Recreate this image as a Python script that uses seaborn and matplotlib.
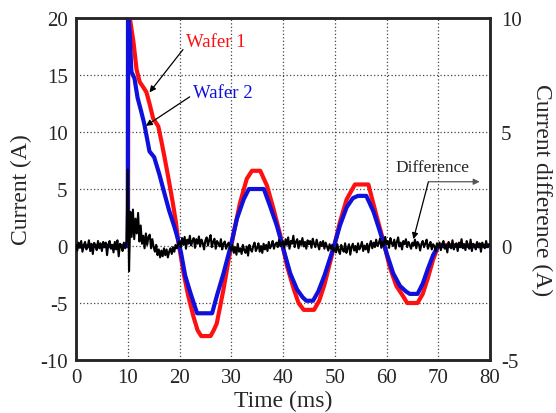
import numpy as np
import pandas as pd
import matplotlib
matplotlib.use("Agg")
import matplotlib.pyplot as plt
import seaborn as sns

# ---- data ----
t_w1 = [0, 9.9, 10.05, 10.1, 10.4, 11.1, 11.7, 12.3, 12.9, 13.6, 14.2, 14.9, 15.9, 16.5, 17.1,
        17.8, 18.7, 19.3, 19.7, 20.8, 21.7, 22.7, 23.5, 24.2, 26.0, 26.6, 27.2, 28.5, 29.5, 30.5,
        31.7, 33.0, 34.0, 35.6, 36.9, 38.2, 39.5, 40.8, 42.1, 43.0, 44.0, 46.0, 47.0, 48.0, 49.0,
        50.0, 51.0, 52.3, 53.9, 56.5, 58.1, 59.3, 60.6, 61.9, 63.2, 64.0, 66.0, 67.0, 68.0, 69.0,
        70.0, 71.0, 80.0]
i_w1 = [0, 0, 0, 20.5, 20.0, 17.9, 15.5, 14.4, 14.0, 13.5, 12.5, 11.2, 10.5, 9.2, 7.8,
        6.1, 3.8, 2.1, 0.6, -2.4, -4.4, -6.2, -7.4, -7.9, -7.9, -7.4, -6.8, -3.8, -1.2, 1.2,
        3.8, 5.9, 6.6, 6.6, 5.3, 3.2, 0.9, -1.8, -3.8, -5.0, -5.6, -5.6, -4.8, -3.4, -1.6,
        0.2, 2.1, 4.1, 5.4, 5.4, 2.6, 0.6, -1.8, -3.5, -4.4, -5.0, -5.0, -4.2, -2.8, -1.2,
        0.0, 0.1, 0.0]

t_w2 = [0, 9.9, 10.0, 10.05, 10.4, 10.7, 11.3, 11.9, 12.6, 13.2, 14.2, 15.1, 16.1, 17.1, 18.0,
        19.0, 19.7, 20.3, 21.1, 22.1, 23.4, 26.3, 27.2, 28.5, 29.9, 31.1, 32.4, 33.4, 36.3, 37.5,
        38.8, 40.1, 41.4, 42.7, 43.8, 44.5, 45.8, 46.8, 48.0, 49.0, 50.0, 51.0, 52.3, 53.5, 54.5,
        56.1, 57.5, 58.5, 60.0, 61.3, 62.6, 63.8, 64.5, 66.0, 67.0, 68.0, 69.0, 70.0, 80.0]
i_w2 = [0, 0, 0, 20.5, 18.5, 15.3, 14.7, 13.0, 11.8, 10.7, 8.3, 7.8, 6.3, 4.6, 3.1,
        1.7, 0.6, -0.6, -2.6, -4.1, -5.9, -5.9, -4.4, -2.4, 0.0, 2.4, 4.1, 5.0, 5.0, 3.5,
        1.8, -0.3, -2.4, -3.8, -4.5, -4.8, -4.8, -4.0, -2.6, -1.2, 0.2, 1.8, 3.4, 4.2, 4.4,
        4.4, 3.0, 1.6, -0.6, -2.4, -3.5, -4.0, -4.2, -4.2, -3.3, -2.0, -0.8, 0.0, 0.0]

diff_vals = [
    0.05, -0.20, 0.15, -0.08, 0.22, -0.25, 0.04, 0.18, -0.15, -0.03, 0.25, -0.22, 0.10, -0.35, 0.14, 0.03, -0.18, 0.22, -0.10, 0.12,
    -0.22, 0.18, -0.05, 0.15, -0.40, 0.08, 0.22, -0.12, 0.04, -0.28, 0.18, -0.15, 0.25, -0.45, 0.10, 0.00, -0.22, 0.15, -0.10, 0.20,
    3.35, -1.10, 1.50, 0.40, 1.60, 0.30, 1.20, 0.55, 1.45, 0.20, 0.90, 0.10, 0.45, -0.10, 0.55, 0.05, 0.40, 0.50, -0.10, 0.30,
    -0.05, -0.25, 0.05, -0.40, -0.15, -0.50, -0.20, -0.45, -0.10, -0.40, -0.15, -0.50, -0.25, -0.10, -0.35, -0.05, -0.25, 0.05, -0.10, 0.10,
    0.20, -0.05, 0.35, 0.05, 0.40, -0.12, 0.28, 0.10, 0.45, 0.02, 0.22, 0.35, -0.08, 0.30, 0.10, 0.42, -0.02, 0.28, 0.12, -0.15,
    0.25, 0.38, 0.02, 0.28, 0.48, -0.05, 0.18, 0.32, -0.12, 0.22, 0.12, -0.02, 0.30, -0.15, 0.10, 0.20, -0.12, 0.05, 0.15, -0.08,
    -0.20, 0.02, -0.30, -0.05, -0.38, 0.10, -0.25, -0.10, -0.35, 0.05, -0.18, -0.30, -0.02, -0.42, 0.05, -0.15, -0.25, 0.00, 0.15, -0.22,
    -0.08, 0.12, -0.25, 0.00, -0.30, 0.10, -0.15, 0.05, -0.22, 0.18, -0.10, 0.02, 0.22, -0.12, 0.08, 0.15, -0.05, 0.28, 0.00, 0.12,
    0.20, -0.08, 0.30, 0.05, 0.38, -0.12, 0.22, 0.10, 0.45, -0.05, 0.18, 0.30, -0.10, 0.22, 0.05, 0.35, -0.02, 0.18, -0.12, 0.25,
    0.08, 0.22, -0.08, 0.32, 0.10, -0.05, 0.28, 0.05, -0.15, 0.18, 0.00, 0.22, -0.12, 0.15, -0.02, -0.20, 0.08, -0.12, 0.05, -0.22,
    -0.10, -0.28, 0.08, -0.20, -0.35, 0.05, -0.15, -0.25, 0.12, -0.30, -0.10, 0.08, -0.38, -0.05, 0.10, -0.20, 0.00, -0.28, 0.12, -0.15,
    -0.02, 0.18, -0.22, 0.02, -0.15, 0.10, -0.28, 0.05, 0.22, -0.10, 0.15, -0.05, 0.28, 0.00, 0.12, 0.32, -0.08, 0.18, 0.02, 0.40,
    0.08, 0.22, -0.08, 0.35, 0.12, 0.00, 0.28, -0.12, 0.18, 0.38, -0.02, 0.15, -0.15, 0.22, 0.08, 0.30, -0.05, 0.18, 0.05, -0.12,
    0.15, 0.02, 0.28, -0.10, 0.18, 0.08, -0.20, 0.10, 0.22, -0.05, 0.10, 0.28, -0.12, 0.04, 0.18, -0.15, 0.08, 0.00, -0.22, 0.12,
    -0.05, 0.15, -0.18, 0.08, 0.22, -0.12, 0.04, -0.28, 0.18, 0.00, -0.10, 0.25, -0.15, 0.05, 0.12, -0.22, 0.15, -0.05, 0.30, -0.10,
    0.08, -0.18, 0.22, 0.00, -0.12, 0.28, -0.22, 0.10, 0.04, -0.15, 0.18, -0.06, 0.12, -0.25, 0.15, 0.02, -0.10, 0.22, -0.05, 0.08,
    0.04,
]
t_diff = np.linspace(0, 80, len(diff_vals))

x_ticks = [0, 10, 20, 30, 40, 50, 60, 70, 80]
y_ticks = [-10, -5, 0, 5, 10, 15, 20]
y2_ticks = [-5, 0, 5, 10]

# ---- style ----
sns.set_style("ticks")
plt.rcParams["font.family"] = ["Liberation Serif", "DejaVu Serif"]
plt.rcParams["axes.unicode_minus"] = False

fig = plt.figure(figsize=(5.56, 4.14), dpi=100)
ax = fig.add_axes([0.1367, 0.128, 0.7446, 0.826])

df1 = pd.DataFrame({"t": t_w1, "i": i_w1})
df2 = pd.DataFrame({"t": t_w2, "i": i_w2})
dfd = pd.DataFrame({"t": t_diff, "d": diff_vals})

sns.lineplot(data=df1, x="t", y="i", ax=ax, color="#ff1010", lw=3.0, sort=False, zorder=3)
sns.lineplot(data=df2, x="t", y="i", ax=ax, color="#1010dd", lw=3.0, sort=False, zorder=4)

ax.set_xlim(0, 80)
ax.set_ylim(-10, 20)
ax.set_xticks(x_ticks)
ax.set_yticks(y_ticks)
ax.grid(True, color="#444444", linestyle=(0, (1, 1.8)), lw=0.9)
ax.set_axisbelow(True)
ax.tick_params(direction="in", labelsize=15, length=0, pad=6)
ax.set_xlabel("Time (ms)", fontsize=17, labelpad=2)
ax.set_ylabel("Current (A)", fontsize=17, labelpad=6)
for s in ax.spines.values():
    s.set_linewidth(1.8)

ax2 = ax.twinx()
sns.lineplot(data=dfd, x="t", y="d", ax=ax2, color="black", lw=1.5, zorder=5)
ax2.set_ylim(-5, 10)
ax2.set_yticks(y2_ticks)
ax2.tick_params(direction="in", labelsize=15, length=0, pad=8)
ax2.set_ylabel("Current difference (A)", fontsize=17, rotation=270, labelpad=22)
ax2.set_xlabel("")
for s in ax2.spines.values():
    s.set_linewidth(1.8)

# annotations (right-axis data coordinates)
arrow = dict(arrowstyle="-|>", color="black", lw=0.9, mutation_scale=9, shrinkA=0, shrinkB=0)
ax2.annotate("Wafer 1", xy=(14.2, 6.74), xytext=(21.3, 8.95),
             color="#ff1010", fontsize=13.5, ha="left", va="center",
             arrowprops=dict(arrow, relpos=(0, 0.3)), zorder=10)
ax2.annotate("Wafer 2", xy=(13.5, 5.27), xytext=(22.6, 6.75), color="#1010dd",
             fontsize=13.5, ha="left", va="center",
             arrowprops=dict(arrow, relpos=(0, 0.35)), zorder=10)
ax2.text(68.9, 3.45, "Difference", fontsize=12.5, ha="center", va="center", zorder=10)
ax2.annotate("", xy=(65.2, 0.3), xytext=(68.1, 2.82),
             arrowprops=arrow, zorder=10)
ax2.annotate("", xy=(78.0, 2.82), xytext=(68.1, 2.82), annotation_clip=False,
             arrowprops=dict(arrow, color="#555555"), zorder=10)

fig.savefig("out.png", dpi=100)
